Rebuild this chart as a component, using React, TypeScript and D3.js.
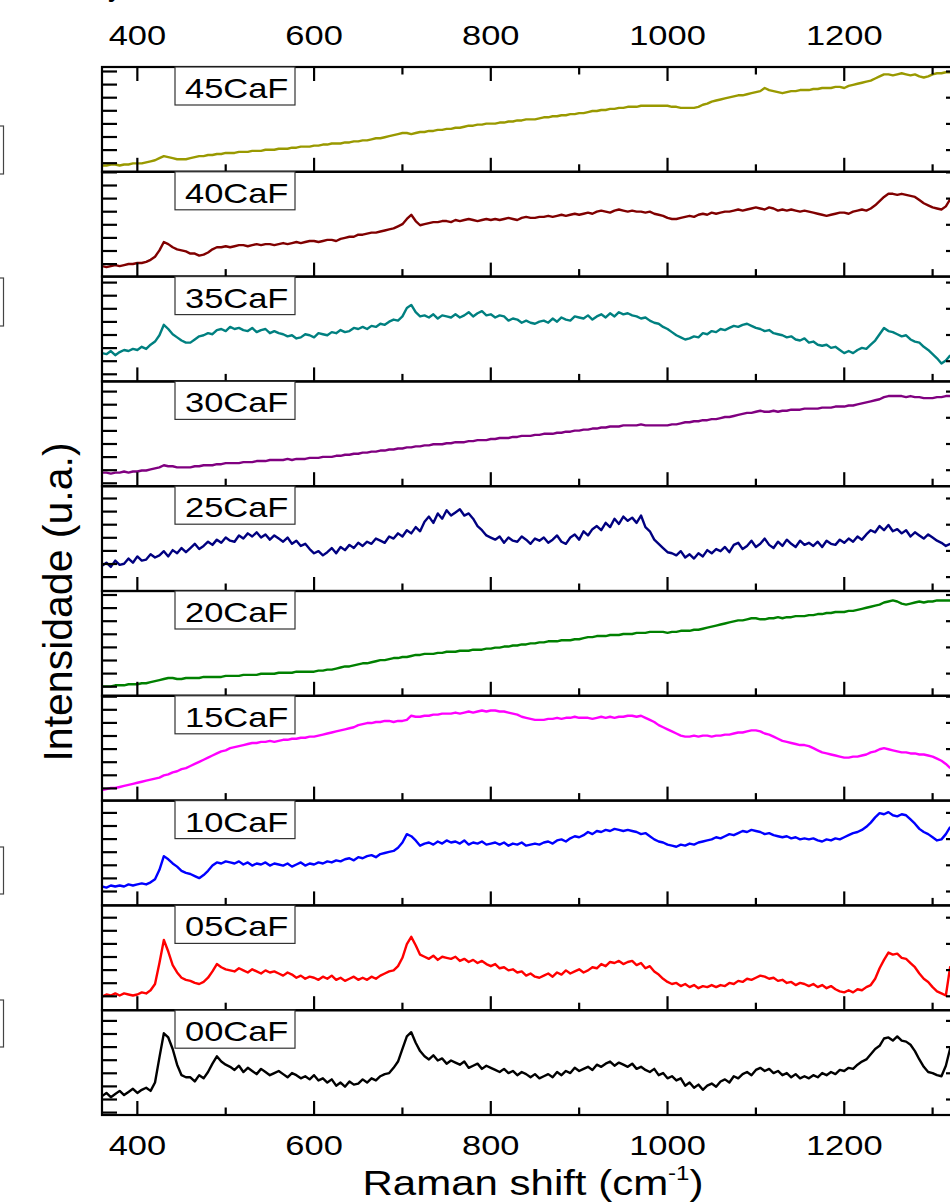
import React from 'react';
import * as d3 from 'd3';

// Raman shift sampling: first point and step (cm-1)
const X_START = 360;
const X_STEP = 5;

const SERIES_NAMES = ['45CaF', '40CaF', '35CaF', '30CaF', '25CaF', '20CaF', '15CaF', '10CaF', '05CaF', '00CaF'];
const SERIES_COLORS = ['#999900', '#800000', '#008080', '#800080', '#000080', '#008000', '#FF00FF', '#0000FF', '#FF0000', '#000000'];

// Intensities (percent of each stacked panel height), 360..1320 cm-1 every 5 cm-1
const S45 = [
  6,6,7,7,6,7,7,8,8,8,9,10,11,13,15,14,13,12,12,12,
  13,14,15,15,16,16,17,17,18,18,18,19,19,19,20,20,20,21,21,21,
  22,22,22,23,23,24,24,24,25,25,26,26,27,27,27,28,28,29,29,30,
  30,31,32,32,33,34,35,36,37,37,36,37,38,38,39,39,40,40,41,41,
  42,42,43,44,44,45,45,46,46,46,47,47,48,48,49,49,50,50,50,51,
  52,52,53,53,54,54,55,55,56,56,57,58,58,59,59,60,60,61,61,62,
  62,62,63,63,63,63,63,63,63,62,62,61,61,61,61,62,64,65,67,68,
  69,70,71,72,73,73,74,75,76,77,80,78,77,76,75,76,77,77,78,78,
  78,79,79,80,80,80,81,81,80,82,83,84,85,86,87,89,91,93,93,92,
  93,94,93,92,93,91,90,91,93,94,94,95,95,
];
const S40 = [
  10,9,10,11,10,11,12,12,13,13,14,16,19,25,33,31,28,26,25,24,
  22,22,20,21,23,26,28,28,29,28,29,30,30,29,30,31,30,31,31,30,
  31,32,31,32,33,32,33,34,34,33,34,35,35,34,36,37,38,38,40,40,
  41,42,42,43,44,45,46,48,50,55,59,53,49,50,51,52,52,53,53,52,
  54,53,54,55,54,53,54,55,54,55,54,55,56,55,54,56,57,56,56,57,
  57,58,57,58,59,58,59,60,59,60,61,60,62,63,62,61,63,64,63,62,
  63,62,62,61,62,60,59,58,56,55,55,56,57,58,57,59,60,59,61,60,
  61,62,62,63,64,63,64,65,66,65,64,66,65,63,64,63,64,63,62,63,
  62,61,60,59,58,59,60,61,61,60,62,63,64,63,65,68,72,76,79,79,
  78,79,78,77,76,73,70,68,66,65,64,67,74,
];
const S35 = [
  27,26,29,25,28,30,29,31,30,33,31,35,38,44,54,50,45,42,39,37,
  37,40,43,44,46,45,49,50,48,52,50,51,49,48,51,47,49,50,46,48,
  46,45,43,44,41,42,45,44,42,46,45,44,47,46,49,47,48,51,50,52,
  50,53,52,55,54,57,59,58,62,70,73,66,62,63,61,64,60,63,62,61,
  64,61,63,66,62,65,67,63,64,61,63,62,58,60,59,56,58,56,55,57,
  58,56,60,57,61,59,58,62,61,60,63,59,62,64,61,65,62,66,64,65,
  63,62,60,61,58,56,55,52,50,47,44,42,40,41,43,42,46,45,48,47,
  50,49,51,53,52,54,55,53,51,50,48,49,46,45,44,42,43,40,39,41,
  37,38,35,34,35,32,33,30,27,29,27,30,32,31,35,39,45,51,48,47,
  45,43,44,40,38,37,33,30,26,22,17,20,25,
];
const S30 = [
  13,13,12,13,13,14,13,14,14,15,15,16,17,18,20,19,19,18,18,18,
  18,19,19,20,20,20,21,21,22,22,22,22,23,23,23,24,24,24,25,25,
  25,25,26,25,26,26,26,27,27,27,28,28,28,29,29,30,30,31,31,32,
  32,33,33,34,34,35,35,36,36,37,37,38,38,39,39,40,40,40,41,41,
  42,42,42,43,43,44,44,44,45,45,46,46,46,47,47,48,48,48,49,49,
  50,50,50,51,51,52,52,53,53,54,54,55,55,56,56,57,57,57,58,58,
  58,58,59,58,58,58,58,58,58,59,59,60,61,61,62,62,63,63,64,64,
  65,66,66,67,68,69,70,70,71,72,71,71,72,71,72,72,73,73,73,74,
  74,74,74,75,75,75,76,76,76,77,77,78,79,80,81,82,83,85,86,86,
  86,86,85,86,85,85,84,84,84,85,85,86,86,
];
const S25 = [
  24,27,23,29,25,26,31,27,33,29,30,35,32,34,38,33,39,36,41,37,
  41,45,40,43,47,44,49,46,51,48,47,53,50,55,52,56,51,54,49,53,
  50,47,51,45,48,43,45,40,36,38,34,37,41,36,42,39,44,41,46,43,
  47,45,50,48,46,52,50,55,52,58,55,61,57,66,71,65,74,69,77,72,
  75,78,72,74,69,62,58,53,51,49,52,46,51,48,47,52,49,45,50,48,
  51,46,49,53,47,45,51,54,49,57,53,59,62,58,65,61,69,64,71,67,
  70,65,72,61,57,49,45,41,37,36,34,38,32,35,31,36,33,39,36,40,
  38,42,37,44,46,40,43,48,42,45,50,44,41,47,43,49,45,42,48,44,
  46,43,47,42,48,45,44,49,46,50,47,52,49,54,58,56,62,58,63,57,
  59,55,58,52,56,53,50,54,51,48,46,43,45,
];
const S20 = [
  9,9,9,10,10,10,11,11,11,12,12,13,14,15,16,17,17,16,16,17,
  17,17,17,18,18,18,18,18,19,19,19,19,20,20,20,20,21,21,21,21,
  22,22,22,22,23,23,23,23,23,24,24,25,25,26,27,28,28,29,30,31,
  31,32,33,34,34,35,36,36,37,37,38,39,39,40,40,40,41,41,42,42,
  42,43,43,43,44,44,44,45,45,46,46,47,47,48,48,49,49,50,50,51,
  51,52,52,52,53,53,53,54,54,55,56,56,57,57,57,58,58,58,59,59,
  59,60,60,60,61,61,61,61,60,61,61,62,62,62,63,63,64,65,66,67,
  68,69,70,71,72,72,73,74,74,73,73,74,74,75,74,75,75,76,76,76,
  77,77,78,78,79,79,80,80,80,81,81,82,83,84,85,86,87,89,90,91,
  90,88,87,88,89,90,89,90,90,91,91,91,91,
];
const S15 = [
  10,11,12,12,13,14,15,16,17,18,19,20,21,22,24,25,27,28,30,31,
  33,35,37,39,41,43,45,47,48,50,51,52,53,54,55,55,56,56,57,56,
  57,58,58,59,59,60,60,61,61,62,63,64,65,66,67,68,69,70,72,73,
  74,74,75,75,76,76,75,76,76,77,81,80,80,81,81,82,82,83,83,83,
  84,83,84,85,84,85,86,85,86,86,85,85,84,83,82,80,79,78,77,77,
  77,78,78,79,78,79,79,80,79,79,79,78,79,80,79,80,79,80,80,81,
  81,80,81,79,77,75,72,70,68,66,64,62,61,61,62,61,62,62,61,62,
  62,63,63,64,65,65,66,67,67,66,64,63,61,59,57,56,55,54,53,53,
  52,50,48,46,45,44,43,42,41,41,42,42,43,44,46,47,49,50,49,48,
  47,46,46,45,45,44,44,43,42,40,38,35,31,
];
const S10 = [
  18,17,19,18,19,18,20,19,20,21,20,22,25,34,47,44,40,37,33,31,
  30,28,26,29,33,38,41,40,42,41,40,42,39,41,38,40,39,41,38,40,
  39,38,40,37,39,41,38,40,39,41,40,42,41,43,42,44,45,43,46,45,
  47,48,46,49,50,51,52,55,60,68,66,62,57,59,60,58,61,59,62,60,
  61,59,62,58,60,59,61,58,59,60,58,60,57,59,58,60,57,58,59,58,
  60,61,59,62,63,61,64,66,65,67,70,68,71,70,72,71,73,72,71,72,
  71,70,68,69,66,63,61,60,58,57,56,58,57,59,58,60,61,62,63,65,
  64,66,68,67,69,71,70,72,71,70,68,69,67,66,65,66,64,65,63,64,
  63,64,62,61,63,62,64,63,65,67,69,70,72,75,79,84,88,87,89,86,
  85,87,86,82,78,73,70,68,65,62,63,68,75,
];
const S05 = [
  13,15,14,16,14,16,15,14,15,17,16,19,25,45,67,56,43,36,31,29,
  28,26,25,27,31,37,44,41,39,38,37,40,38,36,39,37,35,38,36,37,
  35,33,36,34,31,33,30,32,31,29,32,30,33,29,31,28,30,32,29,31,
  29,32,30,33,35,37,38,42,50,63,70,62,53,51,49,52,48,51,50,49,
  51,47,49,46,48,45,47,44,42,44,40,41,38,39,36,37,33,35,32,31,
  33,35,32,36,34,38,35,37,39,36,38,41,40,44,42,46,45,47,44,46,
  47,43,45,40,42,37,34,30,27,25,26,23,25,22,24,21,23,22,24,22,
  24,23,26,25,28,27,30,29,31,33,32,30,31,28,29,26,27,24,26,25,
  23,25,22,24,21,23,20,18,17,19,17,20,19,22,24,30,40,48,55,53,
  54,50,49,45,41,35,30,27,22,18,16,14,42,
];
const S00 = [
  18,21,17,20,23,19,22,25,21,24,26,23,31,55,78,74,63,48,38,36,
  36,32,38,35,41,49,56,51,48,46,43,47,41,45,42,39,44,41,38,40,
  42,39,36,40,38,35,37,34,38,33,35,31,34,28,31,27,32,29,30,34,
  31,35,33,37,39,40,45,51,63,75,79,69,61,56,53,57,52,54,49,52,
  50,48,51,45,47,49,44,47,45,43,41,44,40,42,38,41,39,36,39,35,
  37,39,36,41,38,42,40,45,42,44,46,43,48,46,49,51,47,50,48,46,
  49,44,46,43,41,44,38,40,35,37,33,35,28,31,26,29,24,28,30,27,
  32,34,31,37,35,39,41,38,43,45,42,44,40,42,38,40,36,39,35,37,
  35,38,36,40,38,41,39,43,42,45,44,48,51,53,58,63,66,73,74,71,
  75,71,70,67,61,53,46,41,40,38,37,47,64,
];

const X_MAJOR = [400, 600, 800, 1000, 1200];
const X_MINOR = [500, 700, 900, 1100, 1300];
const X_DOMAIN = [360, 1331];

// per-panel offset (px) of first left-axis tick below panel top
const Y_TICK_PHASE = [4.5, 0.6, 6, 10.2, 12.3, 4, 0.9, 12.3, 12.3, 10.7];

const SERIES = [S45, S40, S35, S30, S25, S20, S15, S10, S05, S00];

const FONT = "'Liberation Sans', Arial, Helvetica, sans-serif";
const SX = 1.23;

function HText({ x, y, size, anchor = 'middle', sx = SX, children }: any) {
  return (
    <text transform={`translate(${x},${y}) scale(${sx},1)`} fontSize={size} textAnchor={anchor} fill="#000">
      {children}
    </text>
  );
}

export default function App() {
  const W = 950, H = 1203;
  const left = 102, right = 960, top = 67, panelH = 104.8;
  const n = SERIES.length;
  const bottom = top + n * panelH;
  const x = d3.scaleLinear().domain(X_DOMAIN).range([left, right]);
  const tickStep = panelH / 8;
  const sideBoxes = [[126, 174], [278, 326], [847, 894], [1000, 1047]];

  return (
    <svg width={W} height={H} style={{ position: 'absolute', left: 0, top: 0 }} fontFamily={FONT}>
      <defs>
        {SERIES.map((_, i) => (
          <clipPath id={`clip${i}`} key={i}>
            <rect x={left} y={top + i * panelH} width={right - left} height={panelH} />
          </clipPath>
        ))}
      </defs>
      <rect x={0} y={0} width={W} height={H} fill="#fff" />

      {/* cropped neighbouring elements */}
      {sideBoxes.map(([a, b], i) => (
        <rect key={i} x={-60} y={a} width={63.5} height={b - a} fill="#fff" stroke="#444" strokeWidth={1.2} />
      ))}
      <text x={108} y={-4} fontSize={30} fill="#000">y</text>

      {SERIES.map((vals, i) => {
        const y0 = top + i * panelH;
        const y1 = y0 + panelH;
        const y = d3.scaleLinear().domain([0, 100]).range([y1, y0]);
        const line = d3.line<number>()
          .x((_, j) => x(X_START + j * X_STEP))
          .y((d) => y(d));
        const leftTicks: number[] = [];
        for (let k = 0; Y_TICK_PHASE[i] + k * tickStep < panelH - 1; k++) leftTicks.push(Y_TICK_PHASE[i] + k * tickStep);
        return (
          <g key={SERIES_NAMES[i]}>
            <path d={line(vals) || ''} fill="none" stroke={SERIES_COLORS[i]} strokeWidth={2.4} strokeLinejoin="round" clipPath={`url(#clip${i})`} />
            <rect x={left} y={y0} width={right - left} height={panelH} fill="none" stroke="#000" strokeWidth={2.2} />
            {X_MAJOR.map((v) => (
              <line key={'M' + v} x1={x(v)} x2={x(v)} y1={y1} y2={y1 - 14} stroke="#000" strokeWidth={2.2} />
            ))}
            {X_MINOR.map((v) => (
              <line key={'m' + v} x1={x(v)} x2={x(v)} y1={y1} y2={y1 - 7.5} stroke="#000" strokeWidth={2.2} />
            ))}
            {i === 0 && X_MAJOR.map((v) => (
              <line key={'TM' + v} x1={x(v)} x2={x(v)} y1={y0} y2={y0 + 14} stroke="#000" strokeWidth={2.2} />
            ))}
            {i === 0 && X_MINOR.map((v) => (
              <line key={'Tm' + v} x1={x(v)} x2={x(v)} y1={y0} y2={y0 + 7.5} stroke="#000" strokeWidth={2.2} />
            ))}
            {leftTicks.map((o, k) => (
              <line key={'L' + k} x1={left} x2={left + 15} y1={y0 + o} y2={y0 + o} stroke="#000" strokeWidth={2.2} />
            ))}
            {leftTicks.filter((_, k) => k % 2 === 0).map((o, k) => (
              <line key={'R' + k} x1={right} x2={right - 14} y1={y0 + o} y2={y0 + o} stroke="#000" strokeWidth={2.2} />
            ))}
            <rect x={175} y={y0} width={120} height={38} fill="#fff" stroke="#333" strokeWidth={1.2} />
            <HText x={185} y={y0 + 31} size={28} anchor="start">{SERIES_NAMES[i]}</HText>
          </g>
        );
      })}

      {X_MAJOR.map((v) => (
        <HText key={'tl' + v} x={x(v)} y={45} size={28}>{v}</HText>
      ))}
      {X_MAJOR.map((v) => (
        <HText key={'bl' + v} x={x(v)} y={bottom + 40} size={28}>{v}</HText>
      ))}

      <HText x={533} y={1195} size={35} sx={1.2}>
        Raman shift (cm<tspan fontSize={20} dy={-15}>-1</tspan><tspan dy={15}>)</tspan>
      </HText>

      <text transform="translate(72,602) rotate(-90)" fontSize={41} textAnchor="middle" fill="#000">
        Intensidade (u.a.)
      </text>
    </svg>
  );
}
